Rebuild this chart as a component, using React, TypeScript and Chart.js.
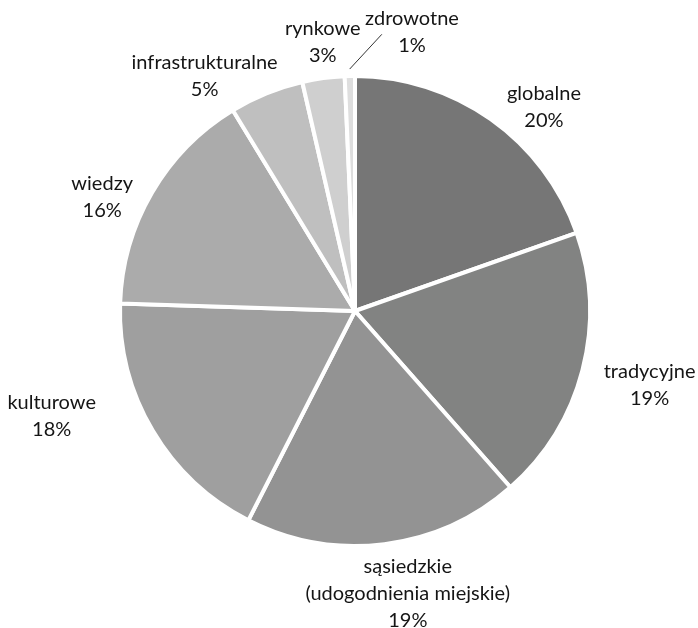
import React, { useEffect, useRef } from "react";
import { Chart, registerables } from "chart.js";

Chart.register(...registerables);

const categories = [
  "globalne",
  "tradycyjne",
  "sąsiedzkie\n(udogodnienia miejskie)",
  "kulturowe",
  "wiedzy",
  "infrastrukturalne",
  "rynkowe",
  "zdrowotne",
];
const values = [19.6, 18.9, 19.0, 18.0, 15.8, 5.1, 2.9, 0.7];
const percentLabels = ["20%", "19%", "19%", "18%", "16%", "5%", "3%", "1%"];
const colors = ["#767676", "#828382", "#939393", "#9f9f9f", "#ababab", "#bfbfbf", "#cfcfcf", "#dedede"];

// label placement: [distance from centre, angle shift in degrees from slice middle]
const LABEL_LAYOUT: [number, number][] = [
  [277.7, 7.6],
  [303.7, -0.5],
  [287, -3.4],
  [321, 11.5],
  [277.5, -5.9],
  [278.8, -10.5],
  [271, 0.9],
  [284.8, 12.8],
];
// leader line for the smallest slice
const LEADER = { index: 7, startExtra: 7, endDist: 278, endShift: 6.8 };

const FONT = "20px Lato, 'Open Sans', sans-serif";
const LINE_H = 27;

const labelPlugin = {
  id: "outsideLabels",
  afterDatasetsDraw(chart: any) {
    const ctx = chart.ctx;
    const meta = chart.getDatasetMeta(0);
    ctx.save();
    ctx.font = FONT;
    ctx.fillStyle = "#151515";
    ctx.textAlign = "center";
    ctx.textBaseline = "middle";
    meta.data.forEach((arc: any, i: number) => {
      const p = arc.getProps(["x", "y", "startAngle", "endAngle", "outerRadius"], true);
      const mid = (p.startAngle + p.endAngle) / 2;
      const [dist, shift] = LABEL_LAYOUT[i];
      const a = mid + (shift * Math.PI) / 180;
      const cx = p.x + Math.cos(a) * dist;
      const cy = p.y + Math.sin(a) * dist;
      const lines = [...categories[i].split("\n"), percentLabels[i]];
      const top = cy - ((lines.length - 1) * LINE_H) / 2;
      lines.forEach((t, j) => ctx.fillText(t, cx, top + j * LINE_H));
      if (i === LEADER.index) {
        const r0 = p.outerRadius + LEADER.startExtra;
        const ea = mid + (LEADER.endShift * Math.PI) / 180;
        ctx.beginPath();
        ctx.strokeStyle = "#333";
        ctx.lineWidth = 1;
        ctx.moveTo(p.x + Math.cos(mid) * r0, p.y + Math.sin(mid) * r0);
        ctx.lineTo(p.x + Math.cos(ea) * LEADER.endDist, p.y + Math.sin(ea) * LEADER.endDist);
        ctx.stroke();
      }
    });
    ctx.restore();
  },
};

export default function App() {
  const ref = useRef<HTMLCanvasElement | null>(null);
  useEffect(() => {
    if (!ref.current) return;
    const chart = new Chart(ref.current, {
      type: "pie",
      data: {
        labels: categories,
        datasets: [
          {
            data: values,
            backgroundColor: colors,
            borderColor: "#ffffff",
            borderWidth: 4,
          },
        ],
      },
      options: {
        animation: false,
        responsive: false,
        layout: { padding: { left: 118, top: 74, right: 106, bottom: 80 } },
        plugins: {
          legend: { display: false },
          tooltip: { enabled: false },
        },
      },
      plugins: [labelPlugin],
    });
    return () => chart.destroy();
  }, []);
  return (
    <div style={{ position: "absolute", left: 0, top: 0, width: 698, height: 628, background: "#fff" }}>
      <canvas ref={ref} width={698} height={628} style={{ width: 698, height: 628 }} />
    </div>
  );
}
